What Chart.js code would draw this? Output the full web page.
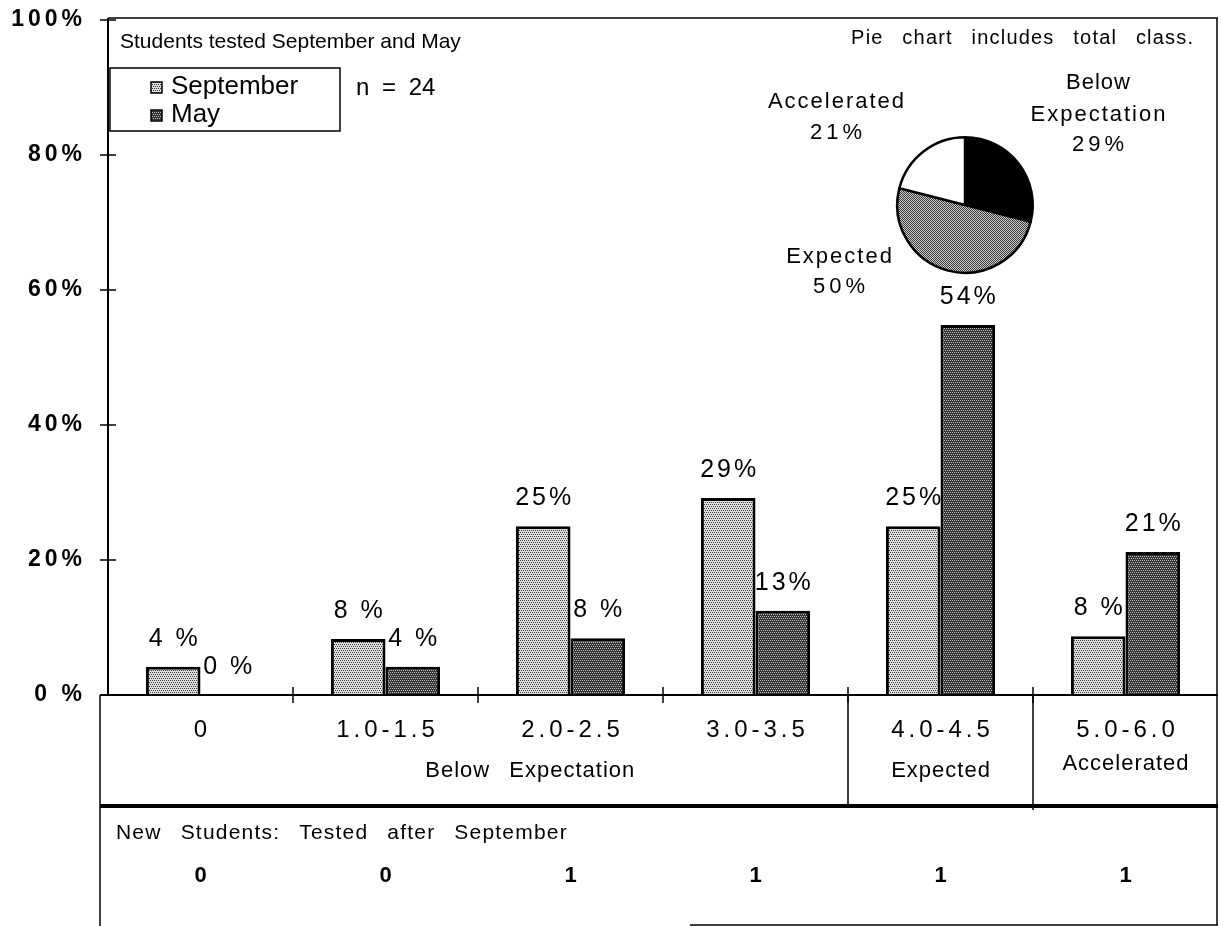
<!DOCTYPE html>
<html>
<head>
<meta charset="utf-8">
<script src="https://cdn.jsdelivr.net/npm/chart.js@4/dist/chart.umd.min.js"></script>
<style>
  html, body { margin: 0; padding: 0; background: #fff; }
  #wrap { position: relative; width: 1221px; height: 926px; }
  #barChart { position: absolute; left: 0; top: 0; }
  #pieChart { position: absolute; left: 893px; top: 133px; }
</style>
</head>
<body>
<div id="wrap">
  <canvas id="barChart" width="1221" height="926"></canvas>
  <canvas id="pieChart" width="144" height="144"></canvas>
</div>
<script>
// --- data ---
const categories = ['0', '1.0-1.5', '2.0-2.5', '3.0-3.5', '4.0-4.5', '5.0-6.0'];
const septValues = [4.2, 8.3, 25, 29.2, 25, 8.7];
const mayValues = [0, 4.2, 8.4, 12.5, 54.8, 21.2];
const septLabels = ['4 %', '8 %', '25%', '29%', '25%', '8 %'];
const mayLabels = ['0 %', '4 %', '8 %', '13%', '54%', '21%'];
const yTicks = [0, 20, 40, 60, 80, 100];
const yTickLabels = ['0 %', '20%', '40%', '60%', '80%', '100%'];
const newStudents = [0, 0, 1, 1, 1, 1];
const pieLabels = ['Below Expectation', 'Expected', 'Accelerated'];
const pieValues = [29, 50, 21];

const FONT = "'Liberation Sans', Arial, Helvetica, sans-serif";

// little dot patterns to mimic the printed shading
function makePattern(bg, fg, spots) {
  const c = document.createElement('canvas');
  c.width = 4; c.height = 4;
  const g = c.getContext('2d');
  g.fillStyle = bg;
  g.fillRect(0, 0, 4, 4);
  g.fillStyle = fg;
  spots.forEach(p => g.fillRect(p[0], p[1], 1, 1));
  return g.createPattern(c, 'repeat');
}
const quarter = [[0, 0], [2, 0], [1, 2], [3, 2]];
const half = [[0, 0], [2, 0], [1, 1], [3, 1], [0, 2], [2, 2], [1, 3], [3, 3]];
const septFill = makePattern('#e0e0e0', '#3a3a3a', quarter);
const mayFill = makePattern('#343434', '#c0c0c0', quarter);
const pieFill = makePattern('#d0d0d0', '#383838', half);

function drawText(ctx, str, x, y, font, align, ls, ws) {
  ctx.save();
  ctx.font = font;
  ctx.fillStyle = '#000';
  ctx.textBaseline = 'middle';
  ctx.textAlign = align || 'center';
  ctx.letterSpacing = (ls || 0) + 'px';
  ctx.wordSpacing = (ws || 0) + 'px';
  let dx = 0;
  if (ls) {
    if (ctx.textAlign === 'center') dx = ls / 2;
    else if (ctx.textAlign === 'right') dx = ls;
  }
  ctx.fillText(str, x + dx, y);
  ctx.restore();
}

function line(ctx, x1, y1, x2, y2, w) {
  ctx.save();
  ctx.strokeStyle = '#000';
  ctx.lineWidth = w;
  ctx.beginPath();
  ctx.moveTo(x1, y1);
  ctx.lineTo(x2, y2);
  ctx.stroke();
  ctx.restore();
}

// value labels go under the bars (the reference has bars covering bits of them)
const valueLabels = {
  id: 'valueLabels',
  beforeDatasetsDraw(chart) {
    const ctx = chart.ctx;
    const lists = [septLabels, mayLabels];
    chart.data.datasets.forEach((ds, i) => {
      chart.getDatasetMeta(i).data.forEach((bar, j) => {
        drawText(ctx, lists[i][j], bar.x, bar.y - 28, '25px ' + FONT, 'center', 3);
      });
    });
  }
};

// frame, axes, legend box and the table under the chart
const frameAndTable = {
  id: 'frameAndTable',
  afterDraw(chart) {
    const ctx = chart.ctx;
    const x = chart.scales.x, y = chart.scales.y;
    const area = chart.chartArea;
    const step = (area.right - area.left) / categories.length;
    const y0 = y.getPixelForValue(0);

    // plot frame
    line(ctx, area.left, area.top - 2, area.right, area.top - 2, 1.5);
    line(ctx, area.right - 1, area.top - 2, area.right - 1, 925, 1.5);
    line(ctx, area.left, area.top - 2, area.left, y0, 2);

    // y ticks and labels
    yTicks.forEach((v, i) => {
      const py = y.getPixelForValue(v);
      line(ctx, area.left - 8, py, area.left + 8, py, 1.5);
      drawText(ctx, yTickLabels[i], 82, py, 'bold 23px ' + FONT, 'right', 4);
    });

    // x axis and category ticks
    line(ctx, 100, y0, area.right, y0, 2);
    for (let i = 1; i < categories.length; i++) {
      const px = area.left + step * i;
      line(ctx, px, y0 - 8, px, y0 + 8, 1.5);
    }

    // table
    const rowLine = 806;
    line(ctx, 100, y0, 100, 926, 1.5);
    line(ctx, area.left + step * 4, y0, area.left + step * 4, rowLine, 1.5);
    line(ctx, area.left + step * 5, y0, area.left + step * 5, rowLine + 4, 1.5);
    line(ctx, 100, rowLine, area.right, rowLine, 4);
    line(ctx, 690, 925, area.right, 925, 1.5);

    categories.forEach((c, i) => {
      drawText(ctx, c, x.getPixelForValue(i), 730, '24px ' + FONT, 'center', 4);
      drawText(ctx, String(newStudents[i]), x.getPixelForValue(i), 876, 'bold 22px ' + FONT, 'center');
    });
    drawText(ctx, 'Below Expectation', x.getPixelForValue(1.78), 771, '22px ' + FONT, 'center', 1, 12);
    drawText(ctx, 'Expected', x.getPixelForValue(4), 771, '22px ' + FONT, 'center', 1);
    drawText(ctx, 'Accelerated', x.getPixelForValue(5), 764, '22px ' + FONT, 'center', 1);
    drawText(ctx, 'New Students: Tested after September', 116, 833, '21px ' + FONT, 'left', 1.2, 12);

    // titles
    drawText(ctx, 'Students tested September and May', 120, 42, '21px ' + FONT, 'left');
    drawText(ctx, 'Pie chart includes total class.', 1193, 38, '20px ' + FONT, 'right', 1.2, 12);
    drawText(ctx, 'n = 24', 356, 88, '24px ' + FONT, 'left', 0, 6);

    // legend box
    ctx.save();
    ctx.strokeStyle = '#000';
    ctx.lineWidth = 1.5;
    ctx.strokeRect(110, 68, 230, 63);
    ctx.restore();
    chart.data.datasets.forEach((ds, i) => {
      const ly = 87 + i * 28;
      ctx.save();
      ctx.fillStyle = ds.backgroundColor;
      ctx.fillRect(151, ly - 5, 11, 11);
      ctx.strokeStyle = '#000';
      ctx.lineWidth = 1.5;
      ctx.strokeRect(151, ly - 5, 11, 11);
      ctx.restore();
      drawText(ctx, ds.label, 171, ly, '26px ' + FONT, 'left');
    });

    // pie annotations
    const pf = '22px ' + FONT;
    drawText(ctx, 'Below', 1098, 83, pf, 'center', 1);
    drawText(ctx, 'Expectation', 1098, 115, pf, 'center', 2);
    drawText(ctx, pieValues[0] + '%', 1098, 145, pf, 'center', 4);
    drawText(ctx, 'Accelerated', 836, 102, pf, 'center', 2);
    drawText(ctx, pieValues[2] + '%', 836, 133, pf, 'center', 4);
    drawText(ctx, 'Expected', 839, 257, pf, 'center', 2);
    drawText(ctx, pieValues[1] + '%', 839, 287, pf, 'center', 4);
  }
};

new Chart(document.getElementById('barChart'), {
  type: 'bar',
  data: {
    labels: categories,
    datasets: [{
      label: 'September',
      data: septValues,
      backgroundColor: septFill,
      borderColor: '#000',
      borderWidth: 3
    }, {
      label: 'May',
      data: mayValues,
      backgroundColor: mayFill,
      borderColor: '#000',
      borderWidth: 3
    }]
  },
  options: {
    responsive: false,
    animation: false,
    devicePixelRatio: 1,
    categoryPercentage: 0.59,
    barPercentage: 1.0,
    layout: { padding: { left: 108, top: 20, right: 3, bottom: 231 } },
    scales: {
      x: { display: false },
      y: { display: false, min: 0, max: 100 }
    },
    plugins: { legend: { display: false }, tooltip: { enabled: false } }
  },
  plugins: [valueLabels, frameAndTable]
});

new Chart(document.getElementById('pieChart'), {
  type: 'pie',
  data: {
    labels: pieLabels,
    datasets: [{
      data: pieValues,
      backgroundColor: ['#000', pieFill, '#fff'],
      borderColor: '#000',
      borderWidth: 2.5
    }]
  },
  options: {
    responsive: false,
    animation: false,
    devicePixelRatio: 1,
    layout: { padding: 3 },
    plugins: { legend: { display: false }, tooltip: { enabled: false } }
  }
});
</script>
</body>
</html>
